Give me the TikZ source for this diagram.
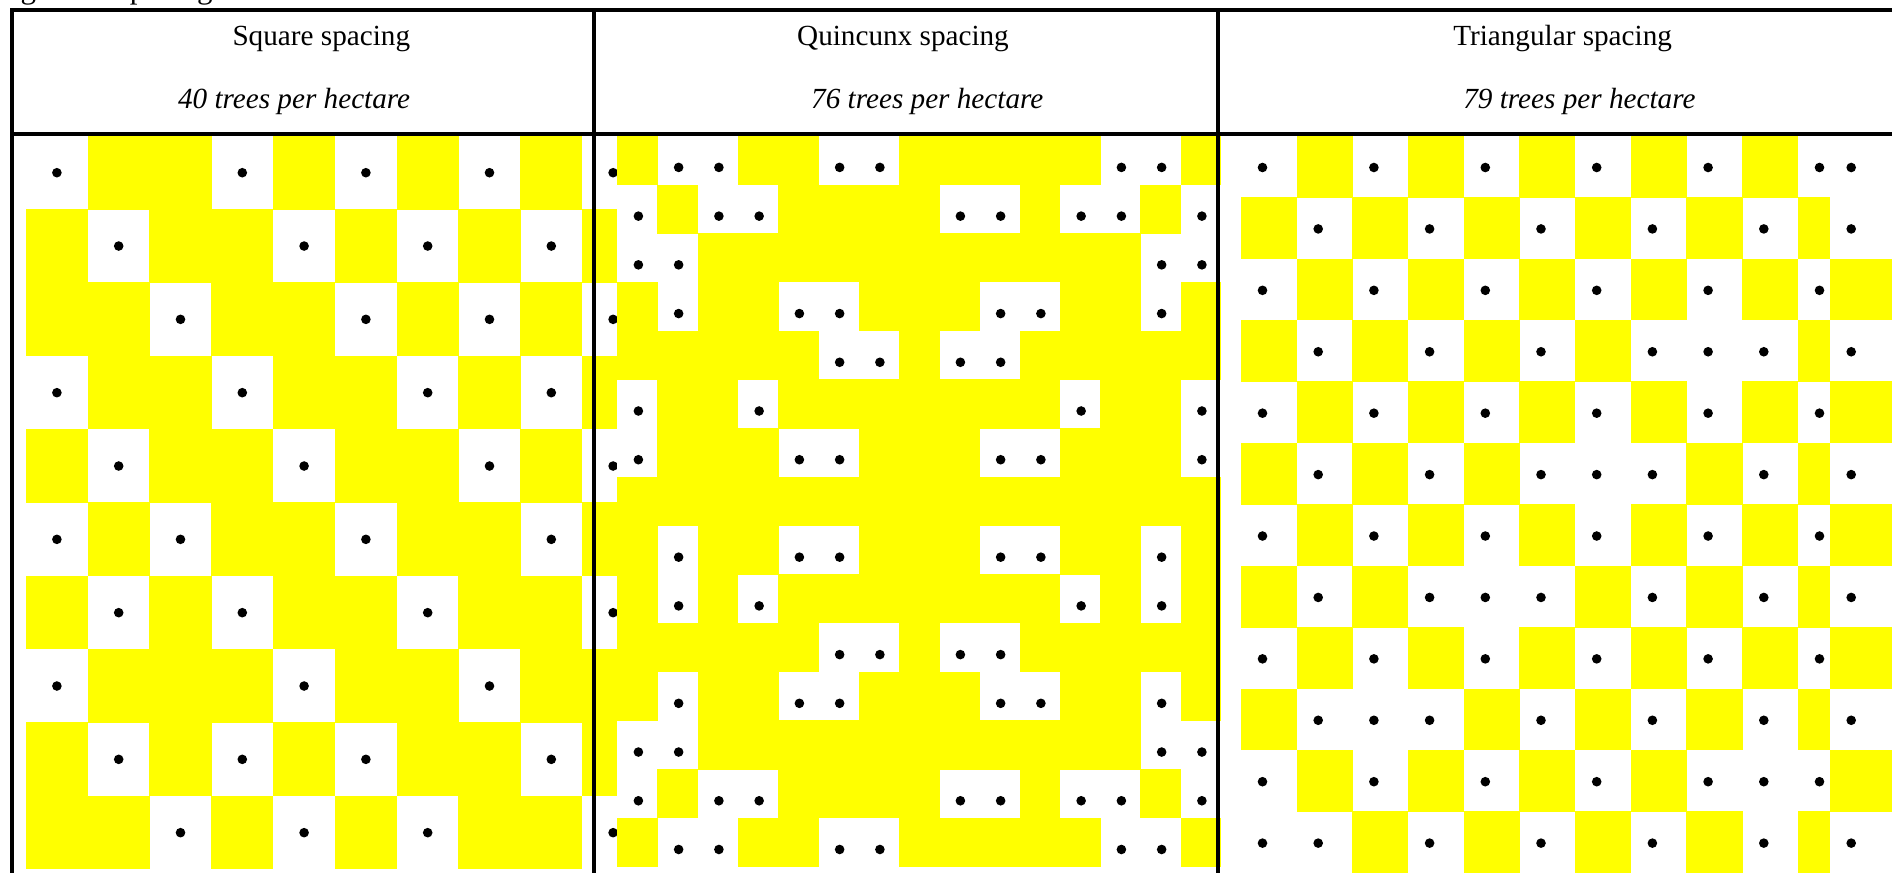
\documentclass[tikz,border=0pt]{standalone}
\usepackage{fontspec}
\setmainfont{Liberation Serif}
\definecolor{plotYellow}{HTML}{FFFF00}

\begin{document}
\begin{tikzpicture}[x=0.5pt, y=-0.5pt,
    rule/.style={line width=2pt},
    plot/.style={fill=plotYellow},
    tree/.style={fill=black},
    head/.style={font=\fontsize{14.6}{17}\selectfont, anchor=base, inner sep=0pt},
]
\useasboundingbox (0,0) rectangle (1892,873);

\node[head, anchor=base west, font=\fontsize{15.5}{18}\selectfont] (title) at (-5.6,-1.8) {Figure 1: spacing};

\fill[white] (26,136) rectangle (644,869.3);
\foreach \pattern [count=\r] in {
    {1,0,0,1,0,1,0,1,0,1},{0,1,0,0,1,0,1,0,1,0},{0,0,1,0,0,1,0,1,0,1},
    {1,0,0,1,0,0,1,0,1,0},{0,1,0,0,1,0,0,1,0,1},{1,0,1,0,0,1,0,0,1,0},
    {0,1,0,1,0,0,1,0,0,1},{1,0,0,0,1,0,0,1,0,0},{0,1,0,1,0,1,0,0,1,0},
    {0,0,1,0,1,0,1,0,0,1}}{
  \foreach \c [count=\k] in \pattern {
    \pgfmathsetmacro{\xl}{26+(\k-1)*61.8}
    \pgfmathsetmacro{\yt}{136+(\r-1)*73.33}
    \ifnum\c=1
      \fill[tree] (\xl+30.9,\yt+36.7) circle (2.4pt);
    \else
      \fill[plot] (\xl-0.2,\yt-0.2) rectangle (\xl+62,\yt+73.5);
    \fi
  }
}

\fill[white] (617.3,136) rectangle (1221,866.8);
\foreach \pattern [count=\r] in {
    {0,1,1,0,0,1,1,0,0,0,0,0,1,1,0},{1,0,1,1,0,0,0,0,1,1,0,1,1,0,1},
    {1,1,0,0,0,0,0,0,0,0,0,0,0,1,1},{0,1,0,0,1,1,0,0,0,1,1,0,0,1,0},
    {0,0,0,0,0,1,1,0,1,1,0,0,0,0,0},{1,0,0,1,0,0,0,0,0,0,0,1,0,0,1},
    {1,0,0,0,1,1,0,0,0,1,1,0,0,0,1},{0,0,0,0,0,0,0,0,0,0,0,0,0,0,0},
    {0,1,0,0,1,1,0,0,0,1,1,0,0,1,0},{0,1,0,1,0,0,0,0,0,0,0,1,0,1,0},
    {0,0,0,0,0,1,1,0,1,1,0,0,0,0,0},{0,1,0,0,1,1,0,0,0,1,1,0,0,1,0},
    {1,1,0,0,0,0,0,0,0,0,0,0,0,1,1},{1,0,1,1,0,0,0,0,1,1,0,1,1,0,1},
    {0,1,1,0,0,1,1,0,0,0,0,0,1,1,0}}{
  \foreach \c [count=\k] in \pattern {
    \pgfmathsetmacro{\xl}{617.3+(\k-1)*40.25}
    \pgfmathsetmacro{\yt}{136+(\r-1)*48.72}
    \ifnum\c=1
      \fill[tree] (\xl+21.1,\yt+31.4) circle (2.4pt);
    \else
      \fill[plot] (\xl-0.2,\yt-0.2) rectangle (\xl+40.45,\yt+48.9);
    \fi
  }
}

\foreach \pattern [count=\r] in {
    {1,0,1,0,1,0,1,0,1,0,1,1},{0,1,0,1,0,1,0,1,0,1,0,1},
    {1,0,1,0,1,0,1,0,1,0,1,0},{0,1,0,1,0,1,0,1,1,1,0,1},
    {1,0,1,0,1,0,1,0,1,0,1,0},{0,1,0,1,0,1,1,1,0,1,0,1},
    {1,0,1,0,1,0,1,0,1,0,1,0},{0,1,0,1,1,1,0,1,0,1,0,1},
    {1,0,1,0,1,0,1,0,1,0,1,0},{0,1,1,1,0,1,0,1,0,1,0,1},
    {1,0,1,0,1,0,1,0,1,1,1,0},{1,1,0,1,0,1,0,1,0,1,0,1}}{
  \foreach \c [count=\k] in \pattern {
    \pgfmathsetmacro{\xl}{\k<12 ? 1241+(\k-1)*55.7 : 1829.7}
    \pgfmathsetmacro{\xr}{\k<11 ? \xl+55.7 : (\k<12 ? 1829.7 : 1895)}
    \pgfmathsetmacro{\yt}{136+(\r-1)*61.42}
    \ifnum\c=1
      \fill[tree] (\xl+21.5,\yt+31.5) circle (2.4pt);
    \else
      \fill[plot] (\xl-0.2,\yt-0.2) rectangle (\xr+0.2,\yt+61.6);
    \fi
  }
}

\draw[rule] (1892,9.5) -- (12,9.5) -- (12,873);
\draw[rule] (12,134) -- (1892,134);
\draw[rule] (594,9.5) -- (594,873);
\draw[rule] (1218,9.5) -- (1218,873);

\node[head] (sqname) at (321.3,45.7) {Square spacing};
\node[head] (sqrate) at (294.1,108.3) {\itshape 40 trees per hectare};
\node[head] (qxname) at (903,45.7) {Quincunx spacing};
\node[head] (qxrate) at (927.3,108.3) {\itshape 76 trees per hectare};
\node[head] (trname) at (1562.6,45.7) {Triangular spacing};
\node[head] (trrate) at (1579.4,108.3) {\itshape 79 trees per hectare};
\end{tikzpicture}
\end{document}
